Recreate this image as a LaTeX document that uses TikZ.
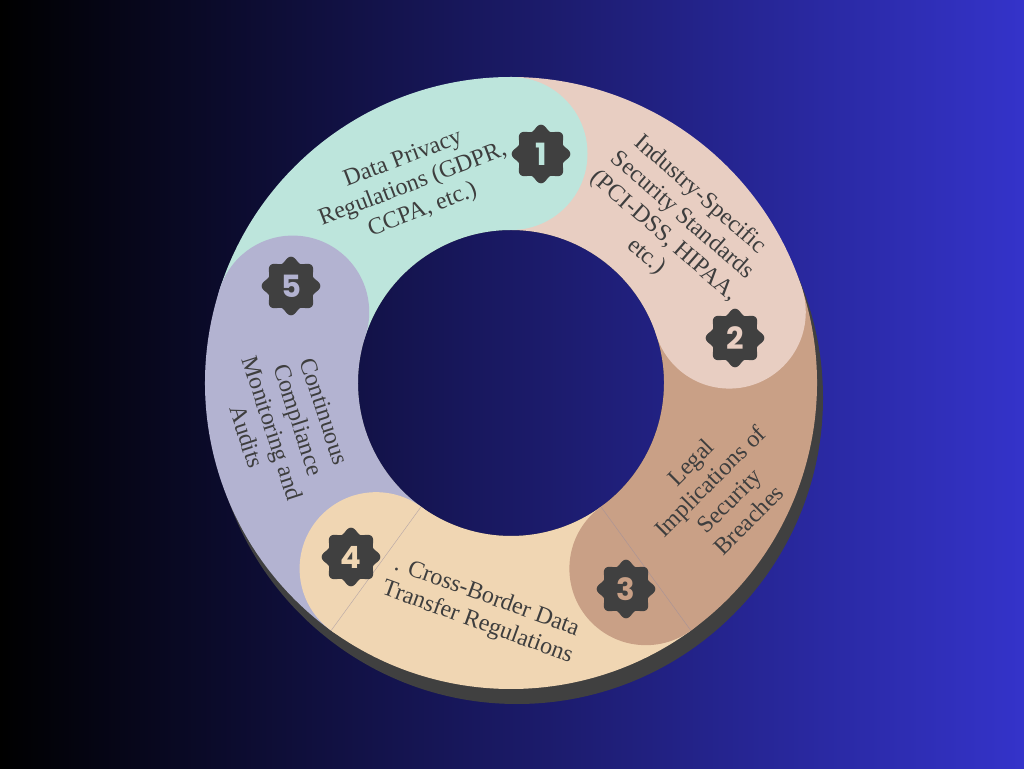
\documentclass[tikz,border=0pt]{standalone}
\usepackage{fontspec}
\setmainfont{Liberation Serif}
\newfontfamily\numfont{Poppins}
\usetikzlibrary{calc}
\definecolor{bgR}{RGB}{52,51,202}
\definecolor{shadowc}{RGB}{64,64,64}
\definecolor{badgec}{RGB}{64,64,64}
\definecolor{txtc}{RGB}{62,62,62}
\definecolor{tealc}{RGB}{189,229,220}
\definecolor{pinkc}{RGB}{232,206,194}
\definecolor{tanc}{RGB}{201,160,134}
\definecolor{creamc}{RGB}{240,214,179}
\definecolor{lavc}{RGB}{179,179,209}
\definecolor{seamc}{RGB}{150,140,160}
\def\Ri{153}
\def\Ro{306}
\def\Rm{229.5}
\newcommand\ringsector[3]{%
  \fill[#1] ($(C)+(#2:\Ro)$) arc[start angle=#2, end angle=#3, radius=\Ro]
    -- ($(C)+(#3:\Ri)$) arc[start angle=#3, end angle=#2, radius=\Ri] -- cycle;}
\newcommand\ringcap[2]{\fill[#1] ($(C)+(#2:\Rm)$) circle (76.5);}
\newcommand\badgeshape[2]{%
  \fill[badgec, shift={(#1,#2)}] plot[domain=0:357.5, samples=144, smooth] (\x:{26.6+2.7*cos(8*\x)}) -- cycle;}
\tikzset{
  lbl/.style={align=center, text=txtc, inner sep=0pt, font=\fontsize{18}{20.5}\selectfont},
  numtxt/.style={inner sep=0pt, font=\numfont\bfseries\fontsize{23}{23}\selectfont},
  seam/.style={draw=seamc, line width=0.35pt, opacity=0.6}
}
\begin{document}
\begin{tikzpicture}[x=0.75pt,y=0.75pt]
\useasboundingbox (0,0) rectangle (1024,768);
\shade[left color=black, right color=bgR] (0,0) rectangle (1024,768);
\coordinate (C) at (511,385);
\coordinate (S) at (517,370);
% shadow
\fill[shadowc, even odd rule] (S) circle (306) (C) circle (153);
% sectors
\ringsector{tealc}{162}{90}
\ringsector{pinkc}{90}{18}
\ringsector{tanc}{18}{-54}
\ringsector{creamc}{-54}{-126}
\ringsector{lavc}{-126}{-198}
% rounded ends
\ringcap{tealc}{90}
\ringcap{pinkc}{18}
\ringcap{tanc}{-54}
\ringcap{creamc}{-126}
\ringcap{lavc}{162}
% faint seams
\draw[seam] ($(C)+(-54:\Ri)$) -- ($(C)+(-54:\Ro)$);
\draw[seam] ($(C)+(-126:\Ri)$) -- ($(C)+(-126:\Ro)$);
% badges
\badgeshape{541}{614}
\badgeshape{735}{430}
\badgeshape{626}{179}
\badgeshape{351}{211}
\badgeshape{291}{482}
\node[numtxt, text=tealc] (n1) at (541,614) {1};
\node[numtxt, text=pinkc] (n2) at (735,430) {2};
\node[numtxt, text=tanc] (n3) at (626,179) {3};
\node[numtxt, text=creamc] (n4) at (351,211) {4};
\node[numtxt, text=lavc] (n5) at (291,482) {5};
% labels
\node[lbl, rotate=21] (t1) at (413,583) {Data Privacy\\Regulations (GDPR,\\CCPA, etc.)};
\node[lbl, rotate=-41] (t2) at (673,542) {Industry-Specific\\Security Standards\\(PCI-DSS, HIPAA,\\etc.)};
\node[lbl, rotate=45] (t3) at (719.5,277) {Legal\\Implications of\\Security\\Breaches};
\node[lbl, rotate=-20] (t4) at (482,158) {. Cross-Border Data\\Transfer Regulations};
\node[lbl, rotate=-72] (t5) at (285.5,344) {Continuous\\Compliance\\Monitoring and\\Audits};
\end{tikzpicture}
\end{document}
